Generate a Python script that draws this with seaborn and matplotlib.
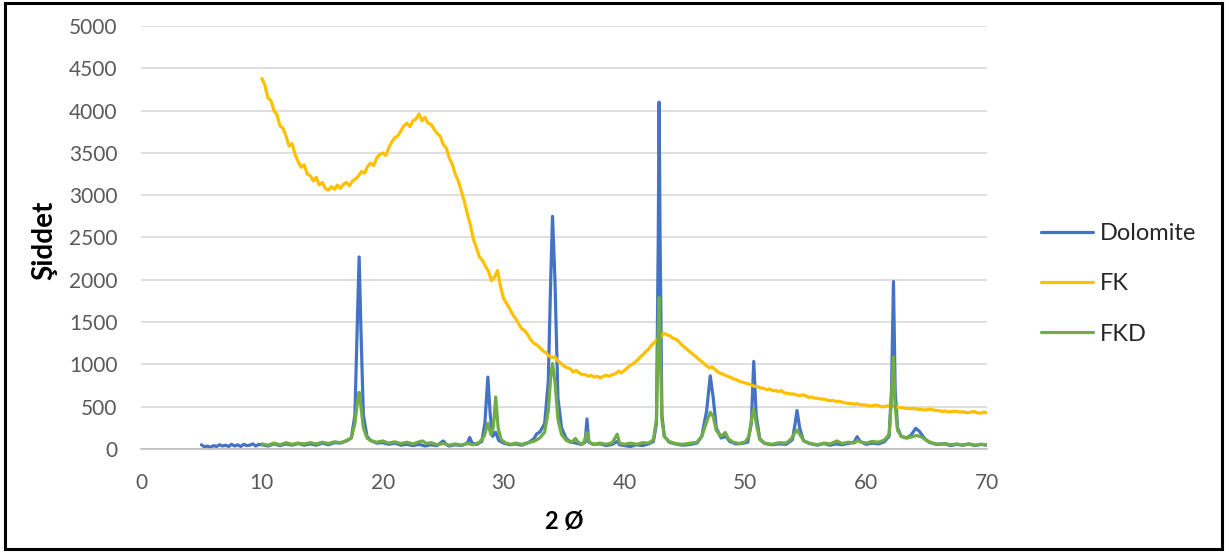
import numpy as np
import pandas as pd
import matplotlib
matplotlib.use("Agg")
import matplotlib.pyplot as plt
from matplotlib.patches import Rectangle
import seaborn as sns

# ---------------- data ----------------
dolomite_x = [5.0, 5.25, 5.5, 5.75, 6.0, 6.25, 6.5, 6.75, 7.0, 7.25, 7.5, 7.75, 8.0, 8.25, 8.5, 8.75,
              9.0, 9.25, 9.5, 9.75, 10.0, 10.5, 11.0, 11.5, 12.0, 12.5,
              13.0, 13.5, 14.0, 14.5, 15.0, 15.5, 16.0, 16.5, 17.0, 17.4, 17.7, 17.9, 18.05, 18.2,
              18.4, 18.7, 19.0, 19.5, 20.0, 20.5, 21.0, 21.5, 22.0, 22.5, 23.0, 23.5, 24.0, 24.5,
              25.0, 25.3, 25.5, 26.0, 26.5, 27.0, 27.2, 27.4, 27.8, 28.2, 28.45, 28.7, 28.9, 29.1,
              29.35, 29.6, 30.0, 30.5, 31.0, 31.5, 32.0, 32.5, 32.75, 33.0, 33.4, 33.7, 33.9, 34.05,
              34.25, 34.5, 34.8, 35.2, 35.6, 36.0, 36.4, 36.75, 36.9, 37.05, 37.4, 38.0, 38.5, 39.0,
              39.4, 39.6, 40.0, 40.5, 41.0, 41.5, 42.0, 42.4, 42.65, 42.8, 42.87, 42.95, 43.1, 43.3,
              43.7, 44.2, 44.8, 45.5, 46.0, 46.4, 46.8, 47.1, 47.35, 47.6, 48.0, 48.4, 48.7, 49.2,
              49.7, 50.2, 50.5, 50.7, 50.9, 51.2, 51.6, 52.2, 52.8, 53.4, 53.9, 54.1, 54.28, 54.5,
              54.8, 55.3, 56.0, 56.5, 57.0, 57.5, 58.0, 58.5, 59.0, 59.25, 59.5, 60.0, 60.5, 61.0,
              61.5, 61.9, 62.1, 62.26, 62.4, 62.6, 62.9, 63.3, 63.7, 64.1, 64.4, 64.8, 65.2, 65.8,
              66.5, 67.0, 67.5, 68.0, 68.5, 69.0, 69.5, 70.0]
dolomite_y = [50, 25, 35, 20, 40, 30, 50, 35, 45, 30, 55, 35, 50, 30, 55, 40,
              45, 60, 35, 55, 50, 35, 60, 40, 60, 45,
              65, 45, 60, 45, 70, 50, 75, 70, 95, 130, 400, 1500, 2270, 1400,
              400, 150, 100, 70, 75, 55, 70, 45, 55, 40, 55, 35, 50, 40,
              95, 50, 35, 50, 40, 70, 135, 70, 55, 90, 300, 850, 400, 150,
              200, 100, 70, 50, 60, 45, 70, 120, 180, 200, 300, 800, 2000, 2750,
              2000, 600, 250, 120, 80, 70, 55, 80, 355, 80, 55, 60, 40, 55,
              90, 50, 40, 30, 50, 40, 60, 90, 300, 2500, 4100, 2500, 400, 150,
              80, 60, 45, 55, 70, 150, 450, 865, 600, 250, 130, 150, 90, 60,
              65, 80, 300, 1035, 400, 120, 65, 50, 60, 55, 110, 280, 455, 250,
              100, 65, 45, 65, 45, 60, 50, 65, 80, 145, 90, 55, 70, 60,
              85, 150, 700, 1980, 700, 250, 150, 130, 160, 245, 210, 130, 80, 55,
              60, 40, 55, 45, 60, 40, 55, 45]

fk_x0 = 10.0
fk_step = 0.25
fk_y = [4380, 4300, 4150, 4120, 4000, 3950, 3820, 3790, 3700, 3580, 3610, 3480,
        3400, 3330, 3360, 3250, 3230, 3170, 3210, 3120, 3150, 3080, 3060, 3100,
        3070, 3120, 3080, 3130, 3150, 3110, 3170, 3190, 3230, 3280, 3260, 3340,
        3380, 3350, 3440, 3480, 3500, 3470, 3560, 3630, 3680, 3700, 3760, 3820,
        3850, 3810, 3880, 3900, 3960, 3880, 3920, 3850, 3840, 3780, 3730, 3700,
        3600, 3560, 3440, 3370, 3250, 3170, 3050, 2930, 2780, 2650, 2480, 2380,
        2270, 2230, 2160, 2100, 1990, 2030, 2110, 1920, 1780, 1720, 1660, 1590,
        1540, 1480, 1420, 1400, 1350, 1290, 1250, 1230, 1200, 1160, 1140, 1100,
        1080, 1090, 1040, 1010, 980, 960, 950, 910, 930, 900, 880, 880,
        860, 870, 850, 860, 840, 860, 870, 860, 880, 890, 920, 900,
        930, 960, 990, 1010, 1040, 1080, 1110, 1150, 1180, 1230, 1260, 1300,
        1320, 1370, 1350, 1340, 1310, 1300, 1270, 1230, 1200, 1170, 1140, 1110,
        1080, 1050, 1020, 990, 960, 970, 940, 910, 890, 880, 860, 850,
        830, 820, 800, 790, 780, 770, 760, 740, 740, 720, 720, 700,
        710, 690, 690, 680, 690, 660, 660, 650, 650, 640, 630, 640,
        630, 610, 615, 600, 600, 590, 590, 580, 570, 575, 560, 565,
        555, 545, 540, 540, 530, 535, 525, 520, 520, 510, 510, 520,
        515, 500, 500, 510, 500, 505, 495, 490, 490, 480, 480, 475,
        480, 470, 470, 460, 465, 470, 465, 455, 455, 445, 450, 440,
        440, 445, 445, 435, 440, 430, 430, 440, 440, 425, 425, 435,
        430]
fk_x = [fk_x0 + fk_step * i for i in range(len(fk_y))]

fkd_x = [10.0, 10.5, 11.0, 11.5, 12.0, 12.5, 13.0, 13.5, 14.0, 14.5, 15.0, 15.5, 16.0, 16.5, 17.0,
         17.4, 17.7, 17.9, 18.05, 18.2, 18.4, 18.7, 19.0, 19.5, 20.0, 20.5, 21.0, 21.5, 22.0, 22.5,
         23.0, 23.3, 23.6, 24.0, 24.5, 25.0, 25.5, 26.0, 26.5, 27.0, 27.5, 28.0, 28.4, 28.7, 28.95,
         29.15, 29.35, 29.55, 29.8, 30.2, 30.6, 31.0, 31.5, 32.0, 32.5, 33.0, 33.4, 33.7, 33.9,
         34.05, 34.25, 34.5, 34.8, 35.2, 35.6, 35.95, 36.2, 36.6, 36.9, 37.1, 37.5, 38.0, 38.5,
         39.0, 39.4, 39.6, 40.0, 40.5, 41.0, 41.5, 42.0, 42.4, 42.65, 42.8, 42.87, 42.95, 43.1,
         43.3, 43.7, 44.2, 44.8, 45.5, 46.0, 46.4, 46.8, 47.1, 47.35, 47.6, 48.0, 48.35, 48.6,
         49.0, 49.5, 50.0, 50.3, 50.55, 50.7, 50.9, 51.2, 51.6, 52.2, 52.8, 53.4, 53.8, 54.1,
         54.3, 54.6, 54.9, 55.4, 56.0, 56.5, 57.0, 57.6, 58.0, 58.5, 59.0, 59.3, 59.6, 60.0,
         60.5, 61.0, 61.5, 61.9, 62.1, 62.26, 62.4, 62.6, 62.9, 63.4, 63.8, 64.2, 64.6, 65.0,
         65.5, 66.0, 66.5, 67.0, 67.5, 68.0, 68.5, 69.0, 69.5, 70.0]
fkd_y = [60, 45, 70, 50, 75, 55, 70, 60, 75, 60, 80, 65, 85, 75, 100,
         130, 300, 550, 670, 500, 250, 130, 100, 80, 95, 70, 85, 65, 80, 60,
         85, 95, 65, 75, 50, 65, 45, 60, 45, 65, 50, 80, 150, 305, 170,
         250, 615, 250, 110, 70, 55, 70, 55, 75, 90, 130, 200, 450, 850,
         1010, 800, 350, 170, 100, 75, 125, 75, 60, 195, 80, 55, 70, 55,
         75, 175, 70, 55, 70, 55, 75, 70, 110, 350, 1400, 1790, 1300, 350,
         150, 90, 65, 55, 70, 80, 150, 320, 435, 380, 220, 150, 195, 120,
         80, 65, 85, 150, 380, 470, 300, 110, 70, 55, 75, 70, 120, 190,
         225, 150, 90, 65, 50, 70, 60, 95, 65, 80, 70, 100, 80, 70,
         90, 80, 105, 170, 600, 1090, 500, 220, 150, 130, 145, 160, 140, 100,
         70, 55, 65, 50, 60, 45, 60, 45, 55, 50]

series_names = ["Dolomite", "FK", "FKD"]
series_colors = ["#4472C4", "#FFC000", "#70AD47"]
x_ticks = [0, 10, 20, 30, 40, 50, 60, 70]
y_ticks = [0, 500, 1000, 1500, 2000, 2500, 3000, 3500, 4000, 4500, 5000]
x_label = "2 Ø"
y_label = "Şiddet"

# ---------------- build long-form table ----------------
frames = []
for name, xs, ys in zip(series_names, [dolomite_x, fk_x, fkd_x], [dolomite_y, fk_y, fkd_y]):
    frames.append(pd.DataFrame({"x": xs, "y": ys, "series": name}))
df = pd.concat(frames, ignore_index=True)

sns.set_style("white")
plt.rcParams["font.family"] = ["Lato", "DejaVu Sans"]

W, H = 1229, 552
fig = plt.figure(figsize=(W / 100, H / 100), dpi=100)
ax = fig.add_axes([141 / W, 1 - 449 / H, (987 - 141) / W, (449 - 26) / H])

sns.lineplot(data=df, x="x", y="y", hue="series", hue_order=series_names,
             palette=dict(zip(series_names, series_colors)), sort=False,
             estimator=None, linewidth=2.3, ax=ax)

ax.set_xlim(0, 70)
ax.set_ylim(0, 5000)
ax.set_xticks(x_ticks)
ax.set_yticks(y_ticks)
ax.grid(axis="y", color="#d9d9d9", linewidth=1.2)
ax.grid(axis="x", visible=False)
ax.set_axisbelow(True)
for s in ["left", "right", "top"]:
    ax.spines[s].set_visible(False)
ax.spines["bottom"].set_color("#bfbfbf")
ax.spines["bottom"].set_linewidth(1.2)
ax.tick_params(axis="both", length=0, labelsize=15, colors="#595959")
ax.tick_params(axis="y", pad=17)
ax.tick_params(axis="x", pad=17)

ax.set_xlabel(x_label, fontsize=17, fontweight="bold", color="black")
ax.set_ylabel(y_label, fontsize=20, fontweight="bold", color="black")
ax.xaxis.set_label_coords((564 - 141) / 846, (449 - 510) / 423)
ax.yaxis.set_label_coords((57 - 141) / 846, (449 - 240) / 423)

leg = ax.legend(loc="center left", bbox_to_anchor=((1041 - 141) / 846, (449 - 284) / 423),
                frameon=False, fontsize=17, handlelength=2.2, handletextpad=0.3,
                labelspacing=1.23, borderpad=0, borderaxespad=0)
for line in leg.get_lines():
    line.set_linewidth(2.3)

fig.patches.append(Rectangle((5 / W, 3 / H), 1217 / W, 546 / H,
                             transform=fig.transFigure, fill=False,
                             edgecolor="black", linewidth=2.2))

fig.savefig("out.png", dpi=100)
